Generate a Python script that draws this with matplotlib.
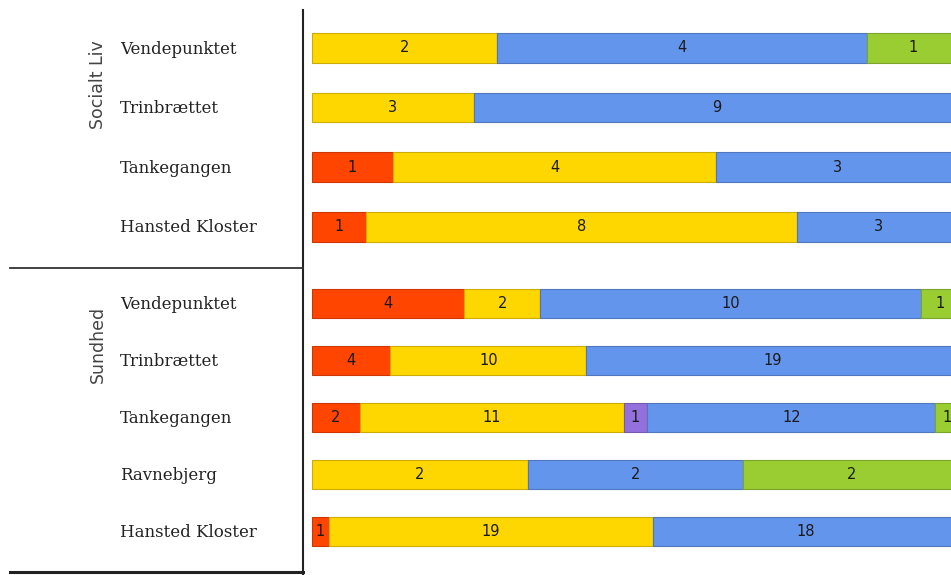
import numpy as np
import matplotlib.pyplot as plt
from matplotlib.lines import Line2D
from matplotlib.colors import to_rgb

# Données (nombre de réponses par catégorie, 5 catégories dans l'ordre des couleurs)
grupper = ["Socialt Liv", "Sundhed"]
steder_socialt = ["Vendepunktet", "Trinbrættet", "Tankegangen", "Hansted Kloster"]
steder_sundhed = ["Vendepunktet", "Trinbrættet", "Tankegangen", "Ravnebjerg", "Hansted Kloster"]

# colonnes : rouge, jaune, violet, bleu, vert
socialt_svar = [
    [0, 2, 0, 4, 1],
    [0, 3, 0, 9, 0],
    [1, 4, 0, 3, 0],
    [1, 8, 0, 3, 0],
]
sundhed_svar = [
    [4, 2, 0, 10, 1],
    [4, 10, 0, 19, 0],
    [2, 11, 1, 12, 1],
    [0, 2, 0, 2, 2],
    [1, 19, 0, 18, 0],
]

farver = ["#FF4500", "#FFD700", "#9370DB", "#6495ED", "#9ACD32"]

W, H = 951, 575


def fx(x):
    return x / W


def fy(y):
    return 1 - y / H


def darker(c, f=0.8):
    r, g, b = to_rgb(c)
    return (r * f, g * f, b * f)


def tracer_section(fig, steder, svar, top, bottom, first, step, bar_px=29.5):
    # axe en pixels : de x=312 à x=959
    ax = fig.add_axes([fx(312), fy(bottom), fx(959) - fx(312), (bottom - top) / H])
    data = np.array(svar, dtype=float)
    totals = data.sum(axis=1)
    pct = data / totals[:, None] * 100
    n = len(steder)
    y = np.arange(n)
    h = bar_px / step
    left = np.zeros(n)
    for k in range(data.shape[1]):
        bars = ax.barh(y, pct[:, k], left=left, height=h, color=farver[k],
                       edgecolor=darker(farver[k]), linewidth=0.8)
        for i, b in enumerate(bars):
            if data[i, k] > 0:
                ax.text(left[i] + pct[i, k] / 2, y[i], f"{int(data[i, k])}",
                        ha="center", va="center", fontsize=10.5, color="#1a1a1a",
                        family="DejaVu Sans")
        left += pct[:, k]
    ax.set_xlim(0, 100)
    ax.set_ylim(n - 1 + (bottom - (first + (n - 1) * step)) / step, -(first - top) / step)
    ax.axis("off")
    # étiquettes des lignes
    for i, s in enumerate(steder):
        fig.text(fx(120), fy(first + i * step + 1), s, ha="left", va="center",
                 fontsize=12, family="DejaVu Serif", color="#222222")
    return ax


fig = plt.figure(figsize=(W / 100, H / 100), dpi=100)

tracer_section(fig, steder_socialt, socialt_svar, 10, 268, 48, 59.6)
tracer_section(fig, steder_sundhed, sundhed_svar, 268, 572, 303.3, 57)

# titres de groupe (verticaux)
fig.text(fx(98), fy(85), grupper[0], rotation=90, ha="center", va="center",
         fontsize=12.5, color="#444444")
fig.text(fx(98), fy(344), grupper[1], rotation=90, ha="center", va="center",
         fontsize=12.5, color="#444444")

# lignes de séparation
fig.add_artist(Line2D([fx(303), fx(303)], [fy(10), fy(575)], transform=fig.transFigure,
                      color="#222222", lw=1.5))
fig.add_artist(Line2D([fx(10), fx(303)], [fy(267.5), fy(267.5)], transform=fig.transFigure,
                      color="#333333", lw=1.3))
fig.add_artist(Line2D([fx(10), fx(303)], [fy(572), fy(572)], transform=fig.transFigure,
                      color="#222222", lw=2.2))

fig.savefig("out.png", dpi=100)
